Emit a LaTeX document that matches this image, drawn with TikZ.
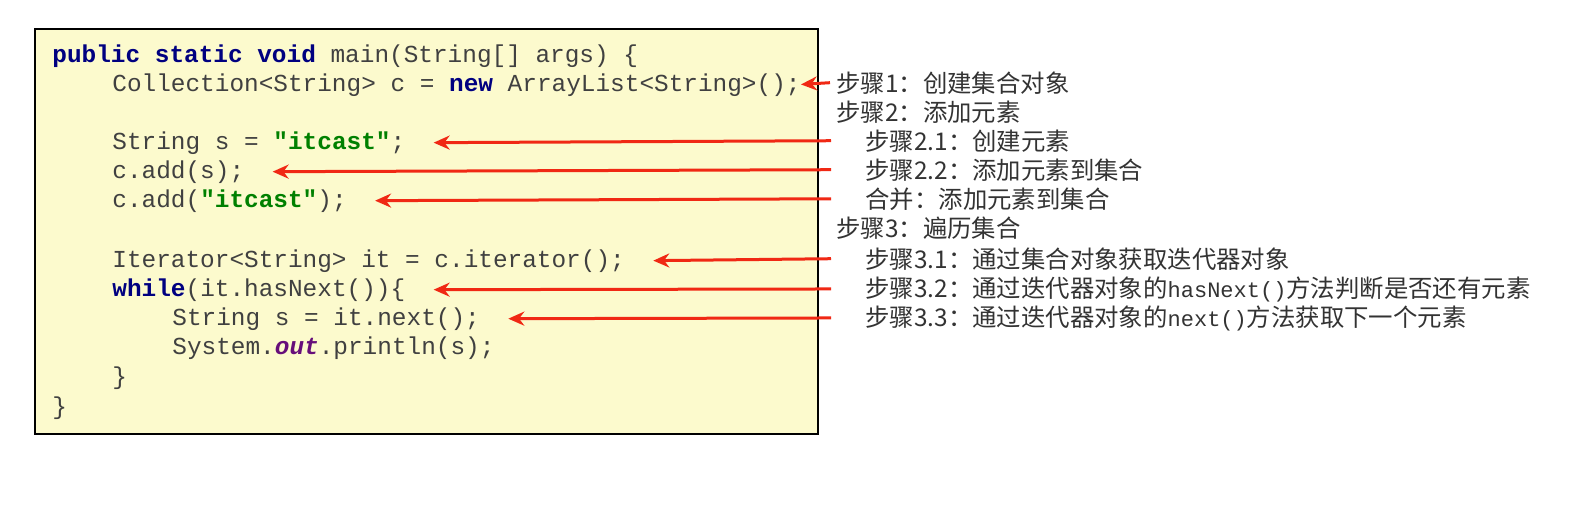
\documentclass[tikz,border=0pt]{standalone}
\usepackage{fontspec}
\setmonofont{Liberation Mono}
\newfontfamily\cjk{Noto Sans CJK SC}
\usetikzlibrary{arrows.meta, positioning}

\definecolor{codebg}{RGB}{252,250,205}
\definecolor{kwblue}{RGB}{0,0,128}
\definecolor{strgreen}{RGB}{0,128,0}
\definecolor{fieldpurple}{RGB}{102,14,122}
\definecolor{arrowred}{RGB}{240,40,20}

\newcommand{\kw}[1]{\textcolor{kwblue}{\textbf{#1}}}
\newcommand{\str}[1]{\textcolor{strgreen}{\textbf{#1}}}

\tikzset{
  code/.style={anchor=base west, inner sep=0pt, font=\ttfamily\fontsize{12.2}{14}\selectfont, text=black!75},
  stepnote/.style={anchor=base west, inner sep=0pt, font=\cjk\fontsize{12.2}{14}\selectfont, text=black!80},
  pointer/.style={-{Stealth[length=8pt,width=7pt]}, line width=1.5pt, arrowred, shorten >=2pt}
}

\begin{document}
\begin{tikzpicture}[x=0.5pt, y=-0.5pt]
		\useasboundingbox (0,0) rectangle (1587,516);
		
		% Code box
		\draw[fill=codebg, line width=1pt] (35,29) rectangle (818,434);
		
		% Code lines
		\node[code] (main) at (52,62) {\kw{public static void} main(String[] args) \{};
		\node[code] (coll) at (112,91) {Collection<String> c = \kw{new} ArrayList<String>();};
		\node[code] (strs) at (112,149) {String s = \str{"itcast"};};
		\node[code] (adds) at (112,178) {c.add(s);};
		\node[code] (addlit) at (112,207) {c.add(\str{"itcast"});};
		\node[code] (iter) at (112,267) {Iterator<String> it = c.iterator();};
		\node[code] (loop) at (112,296) {\kw{while}(it.hasNext())\{};
		\node[code] (next) at (172,325) {String s = it.next();};
		\node[code] (print) at (172,354) {System.\textcolor{fieldpurple}{\textbf{\textit{out}}}.println(s);};
		\node[code] (close) at (112,384) {\}};
		\node[code] (end) at (52,414) {\}};
		
		% Steps
		\node[stepnote] (s1) at (836,92) {步骤1：创建集合对象};
		\node[stepnote] (s2) at (836,121) {步骤2：添加元素};
		\node[stepnote] (s21) at (865,150) {步骤2.1：创建元素};
		\node[stepnote] (s22) at (865,179) {步骤2.2：添加元素到集合};
		\node[stepnote] (s23) at (865,208) {合并：添加元素到集合};
		\node[stepnote] (s3) at (836,237) {步骤3：遍历集合};
		\node[stepnote] (s31) at (865,268) {步骤3.1：通过集合对象获取迭代器对象};
		\node[stepnote] (s32) at (865,297) {步骤3.2：通过迭代器对象的{\ttfamily\fontsize{11}{12}\selectfont hasNext()}方法判断是否还有元素};
		\node[stepnote] (s33) at (865,326) {步骤3.3：通过迭代器对象的{\ttfamily\fontsize{11}{12}\selectfont next()}方法获取下一个元素};
		
		% Arrows
		\draw[pointer] ([xshift=-3pt]s1.west) -- ([xshift=-2pt]coll.east);
		\foreach \s/\c in {s21/strs, s22/adds, s23/addlit, s31/iter, s32/loop, s33/next}
			\draw[pointer] ([xshift=-17pt]\s.west) -- ([xshift=12pt]\c.east);
	\end{tikzpicture}
\end{document}
